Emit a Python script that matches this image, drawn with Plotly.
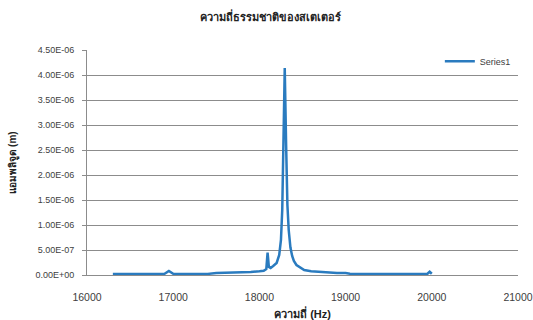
import plotly.graph_objects as go

# Frequency sweep of the stator (Hz) and measured amplitude (m)
freq_hz = [16300, 16500, 16700, 16900, 16950, 17000, 17200, 17400, 17500,
           17600, 17700, 17800, 17900, 18000, 18050, 18080, 18095, 18110,
           18130, 18160, 18200, 18230, 18250, 18265, 18280, 18294, 18310,
           18325, 18340, 18360, 18380, 18400, 18430, 18470, 18520, 18600,
           18700, 18800, 18900, 19000, 19050, 19200, 19400, 19600, 19800,
           19950, 19975, 20000]
amplitude_m = [2.0e-8, 2.0e-8, 2.0e-8, 2.5e-8, 8.0e-8, 2.5e-8, 2.0e-8, 2.2e-8, 4.0e-8,
               4.4e-8, 4.6e-8, 5.0e-8, 6.0e-8, 7.5e-8, 8.5e-8, 1.2e-7, 4.5e-7, 1.6e-7,
               1.4e-7, 1.8e-7, 2.4e-7, 4.0e-7, 7.0e-7, 1.3e-6, 2.6e-6, 4.14e-6, 2.6e-6,
               1.4e-6, 9.0e-7, 5.5e-7, 3.8e-7, 2.8e-7, 2.0e-7, 1.5e-7, 1.0e-7, 7.5e-8,
               6.0e-8, 4.6e-8, 4.2e-8, 4.0e-8, 2.5e-8, 2.0e-8, 2.0e-8, 2.0e-8, 2.2e-8,
               2.5e-8, 6.5e-8, 2.5e-8]

x_ticks = [16000, 17000, 18000, 19000, 20000, 21000]
y_ticks = [i * 5.0e-7 for i in range(10)]
y_tick_text = [f"{v:.2E}" for v in y_ticks]

chart_title = "ความถี่ธรรมชาติของสเตเตอร์"
x_title = "ความถี่ (Hz)"
y_title = "แอมพลิจูด (m)"
series_name = "Series1"

grid_col = "#8c8c8c"
line_col = "#2a7bbf"

fig = go.Figure()
fig.add_trace(go.Scatter(
    x=freq_hz, y=amplitude_m, mode="lines", name=series_name,
    line=dict(color=line_col, width=2.5),
))

fig.update_layout(
    width=533, height=320,
    margin=dict(l=87, r=15, t=50, b=45),
    paper_bgcolor="white", plot_bgcolor="white",
    font=dict(family="Liberation Sans, Arial, sans-serif", color="#404040", size=9),
    title=dict(text=f"<b>{chart_title}</b>", x=0.508, xanchor="center",
               y=0.947, yanchor="middle",
               font=dict(size=11, color="#222222")),
    showlegend=True,
    legend=dict(x=0.995, y=0.95, xanchor="right", yanchor="middle",
                bgcolor="rgba(0,0,0,0)", font=dict(size=9, color="#404040"),
                itemwidth=30, tracegroupgap=0),
    xaxis=dict(
        range=[16000, 21000], tickvals=x_ticks, ticktext=[str(t) for t in x_ticks],
        showgrid=False, zeroline=False, showline=True, linecolor=grid_col,
        linewidth=1, ticks="", tickfont=dict(size=10.5, color="#404040"),
        ticklabelstandoff=12, automargin=False,
        title=dict(text=f"<b>{x_title}</b>", standoff=14,
                   font=dict(size=11, color="#222222")),
    ),
    yaxis=dict(
        range=[0, 4.5e-6], tickvals=y_ticks, ticktext=y_tick_text,
        showgrid=True, gridcolor=grid_col, gridwidth=1,
        zeroline=False, showline=True, linecolor=grid_col, linewidth=1,
        ticks="outside", ticklen=4, tickcolor=grid_col,
        ticklabelstandoff=6, automargin=False,
        tickfont=dict(size=9, color="#404040"),
        title=dict(text=f"<b>{y_title}</b>", standoff=16,
                   font=dict(size=10, color="#222222")),
    ),
)

fig.write_html("out.html")
